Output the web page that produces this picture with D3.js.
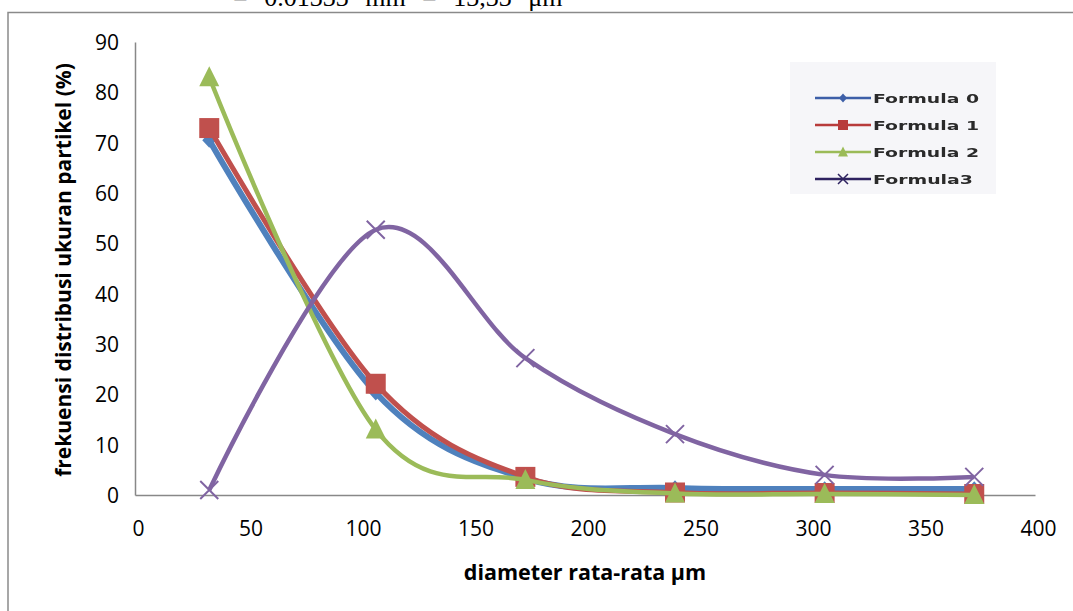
<!DOCTYPE html>
<html><head><meta charset="utf-8">
<script src="https://cdn.jsdelivr.net/npm/d3@7"></script>
<style>body{margin:0;background:#fff}svg{display:block}</style>
</head><body>
<svg id="c" width="1073" height="611"></svg>
<script>
const xValues = [33, 107, 173.5, 240, 306.5, 373];
const formula0 = [70.5, 20.3, 3.3, 1.4, 1.2, 1.2];
const formula1 = [72.9, 22.1, 3.6, 0.5, 0.4, 0.2];
const formula2 = [83, 13, 3.0, 0.3, 0.2, 0.0];
const formula3 = [1.0, 52.7, 27.2, 12.1, 4.0, 3.6];
const seriesNames = ["Formula 0", "Formula 1", "Formula 2", "Formula3"];
const xTicks = [0, 50, 100, 150, 200, 250, 300, 350, 400];
const yTicks = [0, 10, 20, 30, 40, 50, 60, 70, 80, 90];

const colors = ["#4F81BD", "#C0504D", "#9BBB59", "#8064A2"];
const legendColors = ["#3d5fa8", "#b83a3a", "#9bbb59", "#2f2460"];
const widths = [6, 5, 4.5, 4.5];
const shapes = ["diamond", "square", "triangle", "x"];
const allSeries = [formula0, formula1, formula2, formula3];

const svg = d3.select("#c");
const x = d3.scaleLinear().domain([0, 400]).range([135, 1035]);
const y = d3.scaleLinear().domain([0, 90]).range([495, 42]);

// outer frame
svg.append("path").attr("d", "M8,611 L8,12.5 L1073,12.5")
  .attr("fill", "none").attr("stroke", "#8a8a8a").attr("stroke-width", 1.5);

// cut-off text on top
svg.append("text").attr("x", 233).attr("y", 6)
  .attr("font-family", "Liberation Serif, Times New Roman, serif").attr("font-size", 26)
  .attr("word-spacing", 10)
  .attr("fill", "#000").text("= 0.01333 mm = 13,33 μm");

// axes
const yAxis = d3.axisLeft(y).tickValues(yTicks).tickSize(0).tickPadding(16);
const gy = svg.append("g").attr("transform", `translate(${x(0)},0)`).call(yAxis);
const xAxis = d3.axisBottom(x).tickValues(xTicks).tickSize(0).tickPadding(26);
const gx = svg.append("g").attr("transform", `translate(0,${y(0)})`).call(xAxis);
[gx, gy].forEach(g => {
  g.select(".domain").attr("stroke", "#888").attr("stroke-width", 1.5);
  g.selectAll("text").attr("font-family", "Open Sans, sans-serif").attr("font-size", 21).attr("fill", "#000");
});
gx.selectAll("text").attr("dx", 3);
gy.selectAll("text").attr("dy", "0.36em");

// axis titles
svg.append("text").attr("x", 585).attr("y", 580).attr("text-anchor", "middle")
  .attr("font-family", "Open Sans, sans-serif").attr("font-weight", "bold").attr("font-size", 21.5)
  .text("diameter rata-rata μm");
svg.append("text").attr("transform", "translate(71,270) rotate(-90)").attr("text-anchor", "middle")
  .attr("font-family", "Open Sans, sans-serif").attr("font-weight", "bold").attr("font-size", 21)
  .text("frekuensi distribusi ukuran partikel (%)");

function markerPath(shape, cx, cy, r) {
  const p = d3.path();
  if (shape === "diamond") { p.moveTo(cx, cy - r * 1.1); p.lineTo(cx + r, cy); p.lineTo(cx, cy + r * 1.1); p.lineTo(cx - r, cy); p.closePath(); }
  else if (shape === "square") { p.rect(cx - r, cy - r, 2 * r, 2 * r); }
  else if (shape === "triangle") { p.moveTo(cx, cy - r * 1.1); p.lineTo(cx + r, cy + r * 0.9); p.lineTo(cx - r, cy + r * 0.9); p.closePath(); }
  else { p.moveTo(cx - r, cy - r); p.lineTo(cx + r, cy + r); p.moveTo(cx + r, cy - r); p.lineTo(cx - r, cy + r); }
  return p.toString();
}

const line = d3.line().x(d => x(d[0])).y(d => y(d[1])).curve(d3.curveCardinal.tension(0));
const markerR = [7, 10, 10, 9];

allSeries.forEach((vals, i) => {
  const pts = xValues.map((xv, j) => [xv, vals[j]]);
  const g = svg.append("g");
  g.append("path").attr("d", line(pts)).attr("fill", "none")
    .attr("stroke", colors[i]).attr("stroke-width", widths[i]).attr("stroke-linejoin", "round");
  g.selectAll("path.m").data(pts).enter().append("path").attr("class", "m")
    .attr("d", d => markerPath(shapes[i], x(d[0]), y(d[1]), markerR[i]))
    .attr("fill", shapes[i] === "x" ? "none" : colors[i])
    .attr("stroke", colors[i]).attr("stroke-width", shapes[i] === "x" ? 2 : 0);
});

// legend (looks like a pasted, slightly blurred image)
const defs = svg.append("defs");
defs.append("filter").attr("id", "blur").append("feGaussianBlur").attr("stdDeviation", 0.45);
const lg = svg.append("g").attr("filter", "url(#blur)");
lg.append("rect").attr("x", 790).attr("y", 62).attr("width", 206).attr("height", 132).attr("fill", "#f6f6f9");
const legY = d3.scalePoint().domain(seriesNames).range([98, 179]);
seriesNames.forEach((name, i) => {
  const ly = legY(name);
  lg.append("line").attr("x1", 815).attr("x2", 871).attr("y1", ly).attr("y2", ly)
    .attr("stroke", legendColors[i]).attr("stroke-width", 2.5);
  lg.append("path").attr("d", markerPath(shapes[i], 843, ly, i === 0 ? 4 : 5))
    .attr("fill", shapes[i] === "x" ? "none" : legendColors[i])
    .attr("stroke", legendColors[i]).attr("stroke-width", shapes[i] === "x" ? 1.5 : 0);
  lg.append("text").attr("x", 873).attr("y", ly + 5)
    .attr("font-family", "DejaVu Sans, sans-serif").attr("font-weight", "bold").attr("font-size", 13)
    .attr("fill", "#2a2a2a").attr("textLength", name === "Formula3" ? 100 : 106).attr("lengthAdjust", "spacingAndGlyphs")
    .text(name);
});
</script>
</body></html>
